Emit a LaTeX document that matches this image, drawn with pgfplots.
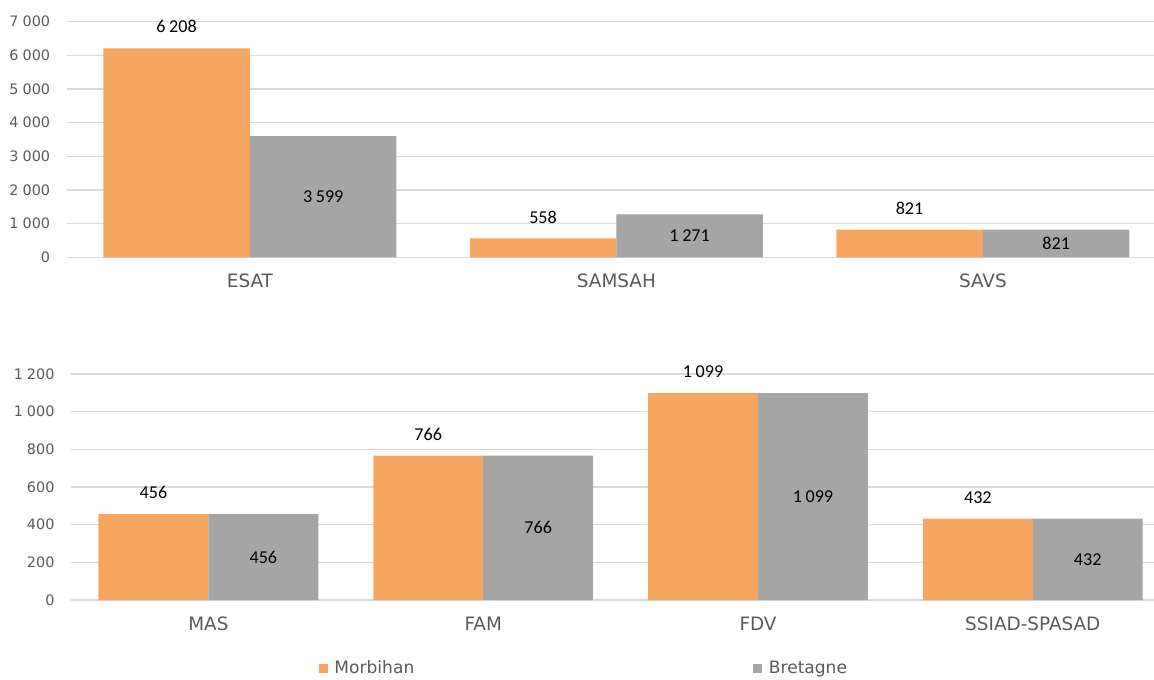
\documentclass[border=0pt]{standalone}
\usepackage{pgfplots}
\pgfplotsset{compat=1.18}
\usepackage{fontspec}
\setmainfont{DejaVu Sans}
\newfontfamily\carlito{Carlito}
\definecolor{morb}{HTML}{F7A661}
\definecolor{bret}{HTML}{A5A5A5}
\definecolor{gridc}{HTML}{D9D9D9}
\definecolor{txt}{HTML}{595959}

\pgfplotsset{
  mybar/.style={
    ybar, scale only axis, anchor=south west,
    xmin=-0.5, bar width=0.4, ymin=0,
    axis line style={draw=none},
    tick style={draw=none},
    ymajorgrids, grid style={gridc, line width=1.1pt},
    xtick=data,
    /pgf/number format/assume math mode=true,
    /pgf/number format/1000 sep={\kern0.28em},
    yticklabel style={font=\fontsize{10.8}{12}\selectfont, text=txt, inner sep=0pt, anchor=east, xshift=-12.2pt},
    xticklabel style={font=\fontsize{13.8}{16}\selectfont, text=txt, inner sep=0pt, anchor=north, yshift=-8.1pt},
  },
  morbplot/.style={fill=morb, draw=none, bar shift=-0.2,
    nodes near coords={\pgfmathprintnumber[1000 sep={\kern0.2em}]{\pgfplotspointmeta}},
    nodes near coords style={anchor=south, inner sep=0pt, yshift=11.2pt, text=black, font=\carlito\fontsize{13.6}{15}\selectfont}},
  bretplot/.style={fill=bret, draw=none, bar shift=0.2,
    visualization depends on={0.5*rawy \as \halfy},
    nodes near coords={\pgfmathprintnumber[1000 sep={\kern0.2em}]{\pgfplotspointmeta}},
    nodes near coords style={anchor=center, inner sep=0pt, shift={(axis direction cs:0,-\halfy)}, text=black, font=\carlito\fontsize{13.6}{15}\selectfont}},
}

\begin{document}
\begin{tikzpicture}
\path[use as bounding box] (0,0) rectangle (865.5pt,509.25pt);

\begin{axis}[mybar,
  at={(50pt,316.3pt)}, width=815.5pt, height=176.7pt,
  xmax=2.467, ymax=7000, ytick={0,1000,...,7000},
  xticklabels={ESAT,SAMSAH,SAVS}]
\addplot[morbplot] coordinates {(0,6208) (1,558) (2,821)};
\addplot[bretplot] coordinates {(0,3599) (1,1271) (2,821)};
\end{axis}

\begin{axis}[mybar,
  at={(53.25pt,59.25pt)}, width=812.25pt, height=169.5pt,
  xmax=3.441, ymax=1200, ytick={0,200,...,1200},
  xticklabels={MAS,FAM,FDV,SSIAD-SPASAD},
  legend columns=2,
  legend image code/.code={\fill[#1,draw=none] (0pt,-3.375pt) rectangle (6.75pt,3.375pt);},
  legend style={at={(axis description cs:0.2283,-0.303)}, anchor=west, draw=none, fill=none, inner sep=0pt,
    font=\fontsize{12.8}{14}\selectfont, text=txt,
    /tikz/every odd column/.append style={column sep=3.2pt},
    /tikz/every even column/.append style={column sep=252pt}}]
\addplot[morbplot] coordinates {(0,456) (1,766) (2,1099) (3,432)};
\addplot[bretplot] coordinates {(0,456) (1,766) (2,1099) (3,432)};
\legend{Morbihan,Bretagne}
\end{axis}
\end{tikzpicture}
\end{document}
